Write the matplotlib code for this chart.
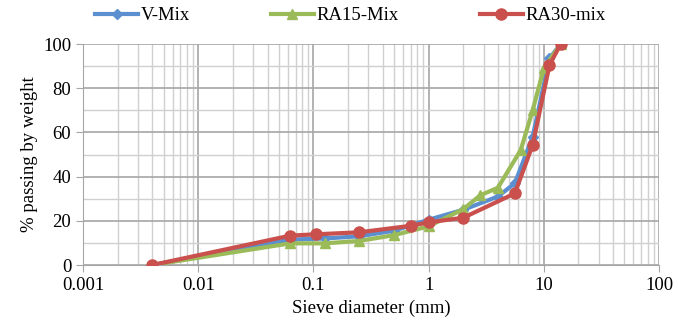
import numpy as np
import matplotlib
matplotlib.use("Agg")
import matplotlib.pyplot as plt
from matplotlib.ticker import LogLocator, FixedLocator, NullFormatter

plt.rcParams['font.family'] = ['Liberation Serif', 'DejaVu Serif']

# sieve sizes (mm) and % passing
v_x = [0.004, 0.063, 0.125, 0.25, 0.5, 1, 2, 4, 5.6, 8, 11.2, 14]
v_y = [0, 11.5, 12, 13, 15.5, 20.5, 25, 31, 37, 58, 93.5, 100]

ra15_x = [0.004, 0.063, 0.125, 0.25, 0.5, 1, 2, 2.8, 4, 6.3, 8, 10, 14]
ra15_y = [0, 9.8, 9.8, 10.9, 13.5, 17.5, 25.3, 31.5, 35, 52, 70, 89, 100]

ra30_x = [0.004, 0.063, 0.105, 0.25, 0.71, 1, 2, 5.6, 8, 11.2, 14]
ra30_y = [0, 13.3, 13.9, 14.8, 17.8, 19.3, 21.4, 32.4, 54.3, 90.5, 100]

blue = '#5B8FD0'
green = '#9BBB59'
red = '#C9504D'

fig = plt.figure(figsize=(6.78, 3.29), dpi=100)
ax = fig.add_axes([0.1224, 0.1945, 0.8496, 0.6715])

ax.plot(v_x, v_y, color=blue, lw=3, marker='D', ms=5, label='V-Mix', zorder=3)
ax.plot(ra15_x, ra15_y, color=green, lw=3, marker='^', ms=7, label='RA15-Mix', zorder=4)
ax.plot(ra30_x, ra30_y, color=red, lw=3, marker='o', ms=8, label='RA30-mix', zorder=5)

ax.set_xscale('log')
ax.set_xlim(0.001, 100)
ax.set_ylim(0, 100)
ax.xaxis.set_major_locator(FixedLocator([0.001, 0.01, 0.1, 1, 10, 100]))
ax.xaxis.set_minor_locator(LogLocator(base=10, subs=np.arange(2, 10)))
ax.xaxis.set_minor_formatter(NullFormatter())
ax.set_xticklabels(['0.001', '0.01', '0.1', '1', '10', '100'])
ax.set_yticks([0, 20, 40, 60, 80, 100])
ax.set_yticks(np.arange(10, 100, 20), minor=True)

ax.grid(which='major', color='#A6A6A6', lw=1.2)
ax.grid(which='minor', color='#D0D0D0', lw=1.0)
ax.set_axisbelow(True)

for s in ['top', 'right']:
    ax.spines[s].set_visible(False)
for s in ['left', 'bottom']:
    ax.spines[s].set_color('#A6A6A6')
ax.tick_params(which='major', direction='out', length=5, color='#A6A6A6', labelsize=13.5)
ax.tick_params(axis='y', which='minor', length=0)
ax.tick_params(axis='x', which='minor', length=0)

ax.set_xlabel('Sieve diameter (mm)', fontsize=13.5)
ax.set_ylabel('% passing by weight', fontsize=13.5)

fig.legend(loc='center', bbox_to_anchor=(0.517, 0.952), ncol=3, frameon=False,
           fontsize=13.5, columnspacing=4.3, handlelength=2.3, handletextpad=0.15,
           borderaxespad=0)

fig.savefig('out.png', dpi=100)
